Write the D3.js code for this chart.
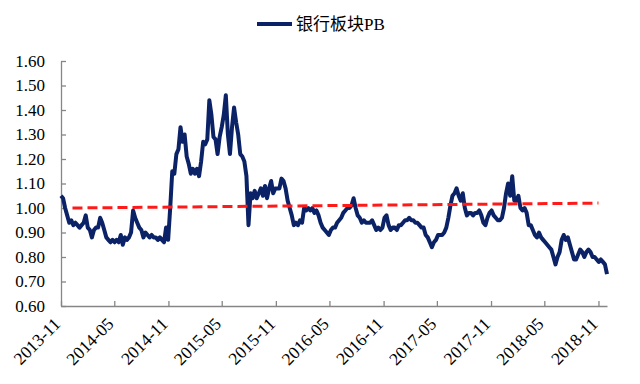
<!DOCTYPE html>
<html>
<head>
<meta charset="utf-8">
<script src="https://cdn.jsdelivr.net/npm/d3@7"></script>
<style>
  html, body { margin: 0; padding: 0; background: #fff; }
  svg { display: block; }
  text { font-family: "Liberation Serif", "Times New Roman", serif; fill: #000; }
</style>
</head>
<body>
<svg id="chart" width="640" height="384"></svg>
<script>
// ---- data ----
const seriesName = "银行板块PB";
const startDate = "2013-11-01";           // first weekly observation
const endDate = "2018-11-30";             // end of the axis
// weekly bank-sector PB readings
const pbValues = [
  1.05,1.04,1.00,0.97,0.94,0.95,0.93,0.94,0.93,0.92,
  0.93,0.94,0.97,0.92,0.91,0.88,0.91,0.92,0.92,0.96,
  0.94,0.91,0.88,0.87,0.86,0.87,0.86,0.87,0.86,0.89,
  0.85,0.88,0.87,0.88,0.90,0.99,0.96,0.94,0.92,0.91,
  0.88,0.90,0.89,0.88,0.89,0.88,0.88,0.87,0.88,0.87,
  0.86,0.92,0.87,1.00,1.15,1.14,1.22,1.24,1.33,1.27,
  1.30,1.21,1.18,1.14,1.16,1.14,1.16,1.13,1.19,1.27,
  1.26,1.28,1.44,1.38,1.29,1.28,1.22,1.29,1.33,1.38,
  1.46,1.30,1.22,1.33,1.41,1.35,1.30,1.22,1.21,1.19,
  1.13,0.93,1.06,1.04,1.07,1.04,1.06,1.08,1.05,1.09,
  1.04,1.08,1.11,1.06,1.08,1.08,1.08,1.12,1.11,1.08,
  1.03,1.00,0.97,0.93,0.94,0.93,0.95,0.94,1.00,0.99,
  1.00,0.99,1.00,0.98,0.99,0.97,0.94,0.92,0.91,0.90,
  0.89,0.91,0.92,0.92,0.94,0.95,0.96,0.98,0.99,1.00,
  1.00,1.01,1.04,1.00,0.97,0.96,0.94,0.95,0.94,0.94,
  0.94,0.95,0.93,0.91,0.92,0.91,0.92,0.96,0.97,0.93,
  0.91,0.92,0.92,0.91,0.93,0.93,0.94,0.95,0.95,0.96,
  0.95,0.95,0.94,0.94,0.93,0.92,0.92,0.89,0.88,0.86,
  0.84,0.86,0.87,0.89,0.89,0.89,0.90,0.92,0.96,1.01,
  1.05,1.06,1.08,1.05,1.03,1.06,1.00,0.97,0.98,0.98,
  0.97,0.98,0.98,0.99,0.97,0.94,0.93,0.96,0.98,0.99,
  0.97,0.96,0.95,0.95,0.96,1.00,1.06,1.10,1.05,1.13,
  1.03,1.03,1.05,1.00,0.99,1.00,0.98,0.93,0.93,0.91,
  0.89,0.88,0.90,0.88,0.87,0.86,0.85,0.84,0.83,0.80,
  0.77,0.80,0.82,0.87,0.89,0.87,0.88,0.85,0.82,0.79,
  0.79,0.81,0.83,0.82,0.80,0.82,0.83,0.82,0.80,0.80,
  0.79,0.78,0.79,0.78,0.77,0.73
];
// red dashed reference line (start, end)
const refDates = ["2013-12-10", "2018-11-01"];
const refValues = [1.00, 1.02];
const yTicks = [0.60,0.70,0.80,0.90,1.00,1.10,1.20,1.30,1.40,1.50,1.60];
const xTickLabels = ["2013-11","2014-05","2014-11","2015-05","2015-11","2016-05",
                     "2016-11","2017-05","2017-11","2018-05","2018-11"];

// ---- build ----
const parse = d3.timeParse("%Y-%m-%d");
const parseMonth = d3.timeParse("%Y-%m");
const t0 = parse(startDate);
const data = pbValues.map((v, i) => ({ date: d3.timeDay.offset(t0, i * 7), value: v }));
const refData = refDates.map((d, i) => ({ date: parse(d), value: refValues[i] }));

const svg = d3.select("#chart");
const margin = { left: 61, right: 33, top: 61, bottom: 78 };
const W = 640, H = 384;

const x = d3.scaleTime()
  .domain([t0, parse(endDate)])
  .range([margin.left, W - margin.right]);
const y = d3.scaleLinear()
  .domain([0.6, 1.6])
  .range([H - margin.bottom, margin.top]);

const axisColor = "#868686";

// Y axis
const yAxis = svg.append("g")
  .attr("transform", `translate(${margin.left},0)`)
  .call(d3.axisLeft(y).tickValues(yTicks).tickFormat(d3.format(".2f"))
        .tickSizeInner(-5).tickSizeOuter(0).tickPadding(16));
yAxis.select(".domain").attr("stroke", axisColor).attr("stroke-width", 1.3);
yAxis.selectAll(".tick line").attr("stroke", axisColor).attr("stroke-width", 1.3);
yAxis.selectAll(".tick text")
  .style("font-family", '"Liberation Serif", serif')
  .style("font-size", "17px").attr("fill", "#000");

// X axis
const xTickDates = xTickLabels.map(s => parseMonth(s));
const xAxis = svg.append("g")
  .attr("transform", `translate(0,${H - margin.bottom})`)
  .call(d3.axisBottom(x).tickValues(xTickDates).tickFormat(d3.timeFormat("%Y-%m"))
        .tickSizeInner(-5).tickSizeOuter(0).tickPadding(0));
xAxis.select(".domain").attr("stroke", axisColor).attr("stroke-width", 1.3);
xAxis.selectAll(".tick line").attr("stroke", axisColor).attr("stroke-width", 1.3);
xAxis.selectAll(".tick text")
  .style("font-family", '"Liberation Serif", serif')
  .style("font-size", "17.5px").attr("fill", "#000")
  .attr("text-anchor", "end")
  .attr("dy", null)
  .attr("y", 0)
  .attr("transform", "translate(0,19) rotate(-45)");

// Series line
const line = d3.line().x(d => x(d.date)).y(d => y(d.value));
svg.append("path")
  .datum(data)
  .attr("fill", "none")
  .attr("stroke", "#0b2366")
  .attr("stroke-width", 4)
  .attr("stroke-linejoin", "round")
  .attr("d", line);

// Red dashed reference line
svg.append("path")
  .datum(refData)
  .attr("fill", "none")
  .attr("stroke", "#ff1a1a")
  .attr("stroke-width", 3)
  .attr("stroke-dasharray", "10,5")
  .attr("d", line);

// Legend
const lg = svg.append("g");
lg.append("line")
  .attr("x1", 257).attr("x2", 292).attr("y1", 24).attr("y2", 24)
  .attr("stroke", "#0b2366").attr("stroke-width", 4);
lg.append("text")
  .attr("x", 296).attr("y", 30)
  .style("font-family", '"Liberation Serif", "Noto Sans CJK SC", serif')
  .style("font-size", "17px")
  .text(seriesName);
</script>
</body>
</html>
